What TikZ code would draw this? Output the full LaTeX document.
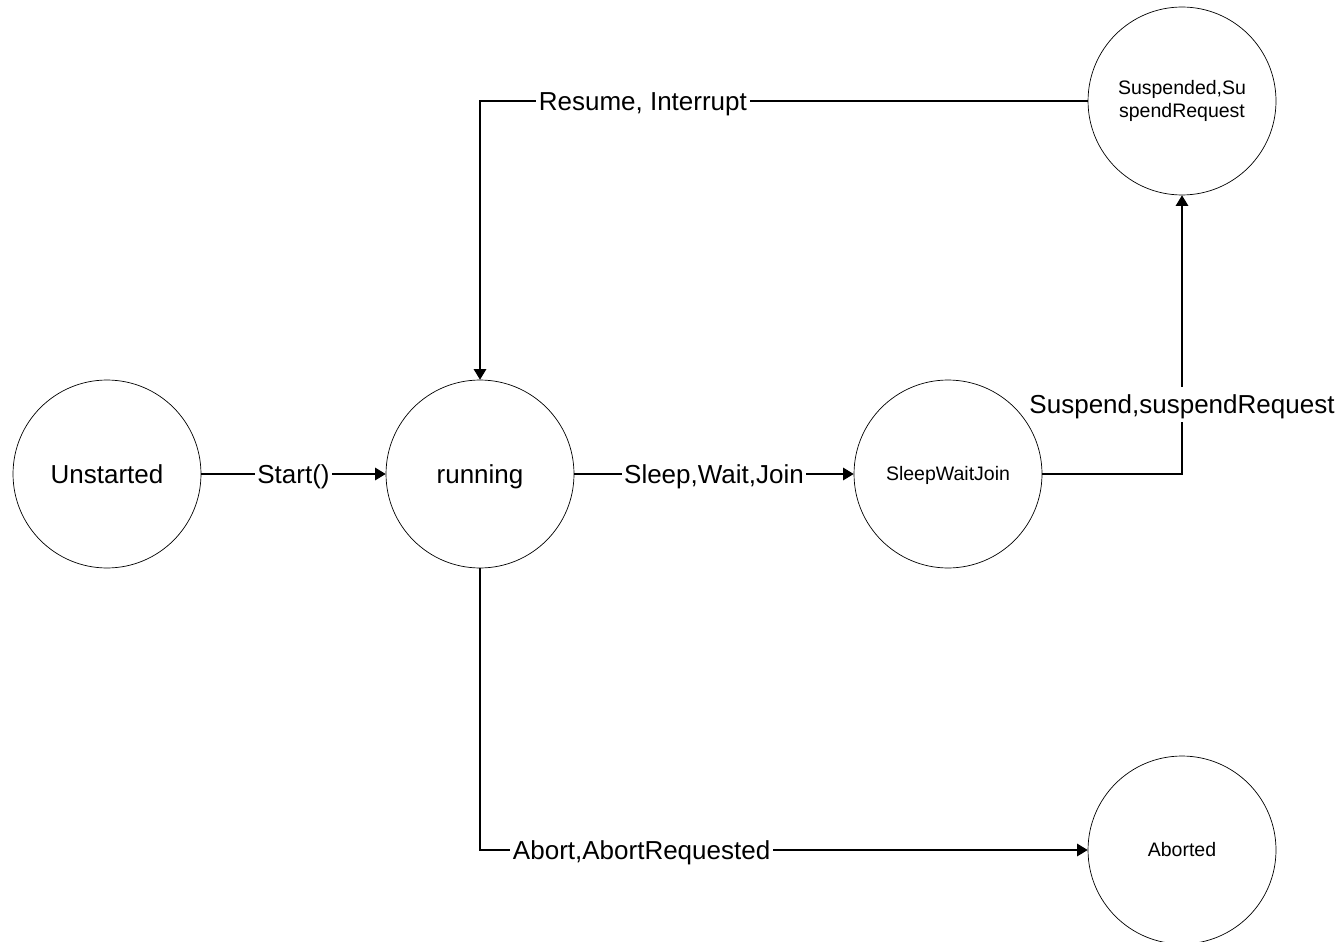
\documentclass[tikz,border=0pt]{standalone}
\usepackage{fontspec}
\setmainfont{Liberation Sans}
\usetikzlibrary{arrows.meta}
\tikzstyle{state}=[draw=black,circle,minimum size=3.76cm,inner sep=0pt,text height=10.6pt,text depth=0pt,font=\fontsize{14.8}{17}\selectfont]
\tikzstyle{smallstate}=[state,text height=7.9pt,font=\fontsize{11.1}{13.6}\selectfont]
\tikzstyle{lbl}=[fill=white,inner sep=1.5pt,text height=13.7pt,text depth=3.1pt,font=\fontsize{14.8}{17}\selectfont]
\tikzstyle{trans}=[draw=black,line width=0.6pt,-{Triangle[length=0.21cm,width=0.25cm]}]

\begin{document}
\begin{tikzpicture}[x=0.02cm,y=-0.02cm]
	\useasboundingbox (0,0) rectangle (1344,942);
	% states
	\node[state] (unstarted) at (107,474) {Unstarted};
	\node[state] (running) at (480,474) {running};
	\node[smallstate] (sleepwaitjoin) at (948,474) {SleepWaitJoin};
	\node[smallstate,align=center,text height=,text depth=] (suspended) at (1182,101) {Suspended,Su\\spendRequest};
	\node[smallstate] (aborted) at (1182,850) {Aborted};
	% transitions
	\draw[trans] (unstarted) -- (running) node[lbl,midway] {Start()};
	\draw[trans] (running) -- (sleepwaitjoin) node[lbl,midway] {Sleep,Wait,Join};
	\draw[trans] (sleepwaitjoin.east) -| (suspended.south) node[lbl,pos=0.625] {Suspend,suspendRequest};
	\draw[trans] (suspended.west) -| (running.north) node[lbl,pos=0.366] {Resume, Interrupt};
	\draw[trans] (running.south) |- (aborted.west) node[lbl,pos=0.633] {Abort,AbortRequested};
\end{tikzpicture}
\end{document}
